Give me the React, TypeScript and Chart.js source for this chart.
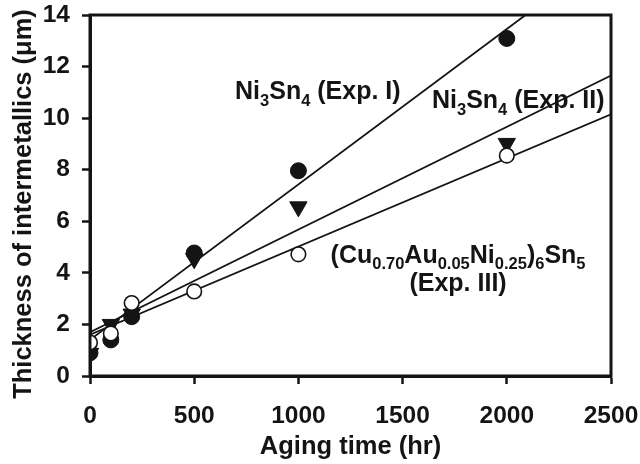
import React, { useEffect, useRef } from "react";
import { Chart, registerables } from "chart.js";

Chart.register(...registerables);

// ---- data ----
const agingHours = [0, 100, 200, 500, 1000, 2000];
const expI = [0.9, 1.4, 2.3, 4.77, 7.96, 13.09];
const expII = [0.88, 2.0, 2.4, 4.55, 6.56, 9.02];
const expIII = [1.3, 1.65, 2.83, 3.28, 4.72, 8.55];

// fitted straight lines: end points
const fitIHours = [0, 2090];
const fitIValues = [1.4, 14];
const fitIIHours = [0, 2500];
const fitIIValues = [1.7, 11.65];
const fitIIIHours = [0, 2500];
const fitIIIValues = [1.6, 10.15];

const xMin = 0;
const xMax = 2500;
const xStep = 500;
const yMin = 0;
const yMax = 14;
const yStep = 2;

const xTitle = "Aging time (hr)";
const yTitle = "Thickness of intermetallics (\u03bcm)";

type Part = [string, boolean];
const labelExpI: Part[] = [["Ni", false], ["3", true], ["Sn", false], ["4", true], [" (Exp. I)", false]];
const labelExpII: Part[] = [["Ni", false], ["3", true], ["Sn", false], ["4", true], [" (Exp. II)", false]];
const labelExpIIIa: Part[] = [
  ["(Cu", false], ["0.70", true], ["Au", false], ["0.05", true], ["Ni", false], ["0.25", true],
  [")", false], ["6", true], ["Sn", false], ["5", true],
];
const labelExpIIIb: Part[] = [["(Exp. III)", false]];

const FONT = "'Liberation Sans', Arial, Helvetica, sans-serif";
const INK = "#141414";

const pts = (xs: number[], ys: number[]) => xs.map((x, i) => ({ x, y: ys[i] }));

const annotations = [
  { parts: labelExpI, x: 696, y: 10.75, align: "left" },
  { parts: labelExpII, x: 1641, y: 10.4, align: "left" },
  { parts: labelExpIIIa, x: 1766, y: 4.4, align: "center" },
  { parts: labelExpIIIb, x: 1766, y: 3.3, align: "center" },
];

function drawParts(ctx: CanvasRenderingContext2D, parts: Part[], x: number, y: number, align: string, size: number) {
  const sub = size * 0.66;
  const mainF = `bold ${size}px ${FONT}`;
  const subF = `bold ${sub}px ${FONT}`;
  let total = 0;
  for (const [t, s] of parts) {
    ctx.font = s ? subF : mainF;
    total += ctx.measureText(t).width;
  }
  let cx = align === "center" ? x - total / 2 : x;
  ctx.textAlign = "left";
  ctx.textBaseline = "alphabetic";
  for (const [t, s] of parts) {
    ctx.font = s ? subF : mainF;
    ctx.fillText(t, cx, s ? y + size * 0.27 : y);
    cx += ctx.measureText(t).width;
  }
}

const decorPlugin = {
  id: "decor",
  afterDraw(chart: any) {
    const { ctx, chartArea, scales } = chart;
    ctx.save();
    // frame
    ctx.strokeStyle = INK;
    ctx.lineWidth = 3;
    ctx.strokeRect(chartArea.left, chartArea.top, chartArea.right - chartArea.left, chartArea.bottom - chartArea.top);
    ctx.fillStyle = INK;
    // annotations
    for (const a of annotations) {
      const px = scales.x.getPixelForValue(a.x);
      const py = scales.y.getPixelForValue(a.y);
      drawParts(ctx, a.parts, px, py, a.align, 25);
    }
    // axis titles
    ctx.font = `bold 25.5px ${FONT}`;
    ctx.textAlign = "center";
    ctx.textBaseline = "alphabetic";
    ctx.fillText(xTitle, (chartArea.left + chartArea.right) / 2, 454);
    ctx.translate(31, 204);
    ctx.rotate(-Math.PI / 2);
    ctx.fillText(yTitle, 0, 0);
    ctx.restore();
  },
};

export default function App() {
  const ref = useRef<HTMLCanvasElement | null>(null);
  useEffect(() => {
    if (!ref.current) return;
    const chart = new Chart(ref.current, {
      type: "scatter",
      data: {
        datasets: [
          {
            label: "Exp. III",
            data: pts(agingHours, expIII),
            pointStyle: "circle",
            pointRadius: 7.3,
            pointBackgroundColor: "#ffffff",
            pointBorderColor: INK,
            pointBorderWidth: 1.6,
            showLine: false,
          },
          {
            label: "Exp. I",
            data: pts(agingHours, expI),
            pointStyle: "circle",
            pointRadius: 8,
            pointBackgroundColor: INK,
            pointBorderColor: INK,
            pointBorderWidth: 1,
            showLine: false,
          },
          {
            label: "Exp. II",
            data: pts(agingHours, expII),
            pointStyle: "triangle",
            rotation: 180,
            pointRadius: 10,
            pointBackgroundColor: INK,
            pointBorderColor: INK,
            pointBorderWidth: 1,
            showLine: false,
          },
          {
            label: "fit I",
            data: pts(fitIHours, fitIValues),
            showLine: true,
            pointRadius: 0,
            borderColor: INK,
            borderWidth: 1.8,
          },
          {
            label: "fit II",
            data: pts(fitIIHours, fitIIValues),
            showLine: true,
            pointRadius: 0,
            borderColor: INK,
            borderWidth: 1.8,
          },
          {
            label: "fit III",
            data: pts(fitIIIHours, fitIIIValues),
            showLine: true,
            pointRadius: 0,
            borderColor: INK,
            borderWidth: 1.8,
          },
        ] as any,
      },
      options: {
        responsive: false,
        animation: false,
        layout: { padding: { left: 0, right: 29, top: 15, bottom: 0 } },
        plugins: { legend: { display: false }, tooltip: { enabled: false } },
        scales: {
          x: {
            type: "linear",
            min: xMin,
            max: xMax,
            afterFit: (s: any) => { s.height = 88; s.paddingLeft = 0; s.paddingRight = 0; },
            ticks: {
              stepSize: xStep,
              color: INK,
              padding: 18,
              font: { family: FONT, size: 24.5, weight: "bold" },
              maxRotation: 0,
              callback: (v: any) => String(v),
            },
            grid: { drawOnChartArea: false, drawTicks: true, tickLength: 8, tickWidth: 2.5, tickColor: INK },
            border: { display: true, color: INK, width: 3 },
            title: { display: false },
          },
          y: {
            type: "linear",
            min: yMin,
            max: yMax,
            afterFit: (s: any) => { s.width = 90; s.paddingTop = 0; s.paddingBottom = 0; },
            ticks: {
              stepSize: yStep,
              color: INK,
              padding: 12,
              font: { family: FONT, size: 24.5, weight: "bold" },
              callback: (v: any) => String(v),
            },
            grid: { drawOnChartArea: false, drawTicks: true, tickLength: 8, tickWidth: 2.5, tickColor: INK },
            border: { display: true, color: INK, width: 3 },
            title: { display: false },
          },
        },
      } as any,
      plugins: [decorPlugin],
    });
    return () => chart.destroy();
  }, []);
  return (
    <div style={{ position: "fixed", left: 0, top: 0, width: 640, height: 464, background: "#fff" }}>
      <canvas ref={ref} width={640} height={464} style={{ display: "block", width: 640, height: 464 }} />
    </div>
  );
}
